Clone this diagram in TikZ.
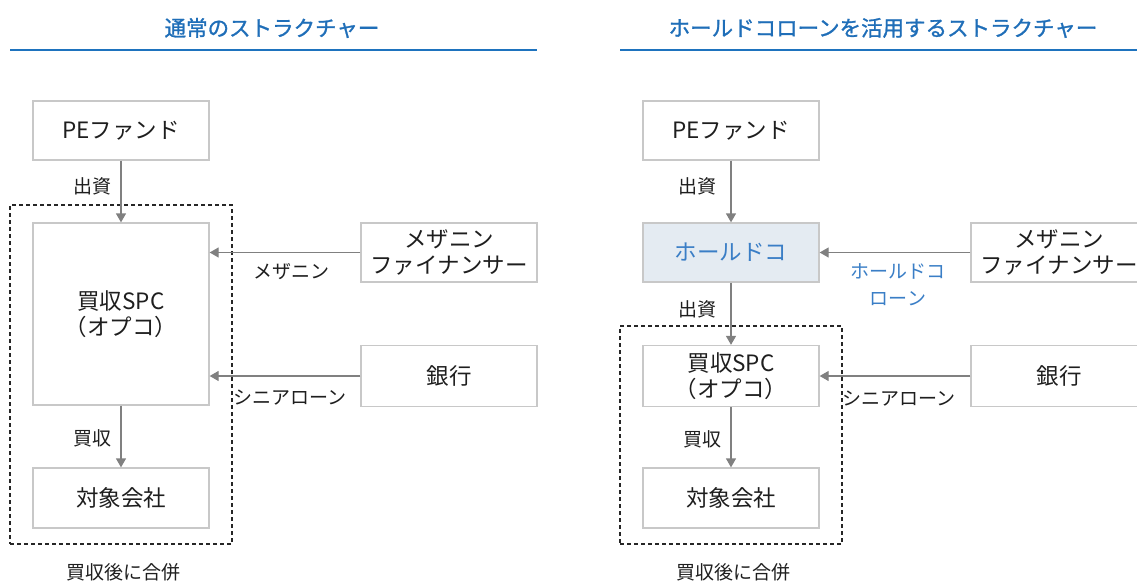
\documentclass[tikz,border=0pt]{standalone}
\usepackage{fontspec}
\setmainfont{Noto Sans CJK JP}
\newfontfamily\mytitlefont{Noto Sans CJK JP}[FakeBold=1.2]
\usetikzlibrary{arrows.meta}
\definecolor{boxgray}{HTML}{C8C8C8}
\definecolor{arrowgray}{HTML}{808080}
\definecolor{textdark}{HTML}{1E1E1E}
\definecolor{titleblue}{HTML}{1F6EB8}
\definecolor{lineblue}{HTML}{1E73BE}
\definecolor{holdfill}{HTML}{E4EBF2}
\definecolor{holdtext}{HTML}{3A7EC6}
\tikzset{
  box/.style={draw=boxgray, line width=1.3pt, inner sep=0pt, align=center,
    minimum width=176pt, font=\fontsize{22.5}{26}\selectfont, text=textdark},
  lbl/.style={inner sep=0pt, align=center, font=\fontsize{19}{27}\selectfont, text=textdark},
  arr/.style={draw=arrowgray, line width=1.3pt, -{Triangle[length=9pt,width=10pt]}},
  grpbox/.style={draw=black!85, line width=1.2pt, dash pattern=on 4pt off 3pt,
    minimum width=222pt, inner sep=0pt},
  titletxt/.style={inner sep=0pt, font=\fontsize{21.5}{26}\mytitlefont, text=titleblue},
  tline/.style={draw=lineblue, line width=1.8pt}
}
\begin{document}
\begin{tikzpicture}[x=1pt,y=-1pt]
\useasboundingbox (0,0) rectangle (1137,581);
% ---------- left panel ----------
\node[titletxt] (t1) at (272,28) {通常のストラクチャー};
\coordinate (l1a) at (10,50);
\coordinate (l1b) at (537,50);
\draw[tline] (l1a) -- (l1b);

\node[grpbox, minimum height=339pt] (grp1) at (121,374.5) {};
\node[box, minimum height=59pt] (pe1) at (121,130.5) {PEファンド};
\node[box, minimum height=182pt] (spc1) at (121,314) {買収SPC\\（オプコ）};
\node[box, minimum height=60pt] (tgt1) at (121,498) {対象会社};
\node[box, minimum height=59pt] (mez1) at (449,252.5) {メザニン\\ファイナンサー};
\node[box, minimum height=61pt] (bank1) at (449,376) {銀行};

\draw[arr] (pe1) -- (spc1);
\draw[arr] (mez1.west) -- (mez1.west -| spc1.east);
\draw[arr] (bank1.west) -- (bank1.west -| spc1.east);
\draw[arr] (spc1) -- (tgt1);

\node[lbl] (c1) at (92,186) {出資};
\node[lbl] (m1) at (291,272) {メザニン};
\node[lbl] (s1) at (290,398) {シニアローン};
\node[lbl] (b1) at (92,438) {買収};
\node[lbl] (g1) at (123,572) {買収後に合併};

% ---------- right panel ----------
\node[titletxt] (t2) at (883,28) {ホールドコローンを活用するストラクチャー};
\coordinate (l2a) at (620,50);
\coordinate (l2b) at (1147,50);
\draw[tline] (l2a) -- (l2b);

\node[grpbox, minimum height=218pt] (grp2) at (731,435) {};
\node[box, minimum height=59pt] (pe2) at (731,130.5) {PEファンド};
\node[box, minimum height=59pt, fill=holdfill, text=holdtext] (hold) at (731,252.5) {ホールドコ};
\node[box, minimum height=61pt] (spc2) at (731,376) {買収SPC\\（オプコ）};
\node[box, minimum height=60pt] (tgt2) at (731,498) {対象会社};
\node[box, minimum height=59pt] (mez2) at (1059,252.5) {メザニン\\ファイナンサー};
\node[box, minimum height=61pt] (bank2) at (1059,376) {銀行};

\draw[arr] (pe2) -- (hold);
\draw[arr] (mez2.west) -- (mez2.west -| hold.east);
\draw[arr] (hold) -- (spc2);
\draw[arr] (bank2.west) -- (bank2.west -| spc2.east);
\draw[arr] (spc2) -- (tgt2);

\node[lbl] (c2) at (697,186) {出資};
\node[lbl, text=holdtext] (h2) at (898,285) {ホールドコ\\ローン};
\node[lbl] (c3) at (697,309) {出資};
\node[lbl] (s2) at (899,399) {シニアローン};
\node[lbl] (b2) at (702,439) {買収};
\node[lbl] (g2) at (733,572) {買収後に合併};
\end{tikzpicture}
\end{document}
